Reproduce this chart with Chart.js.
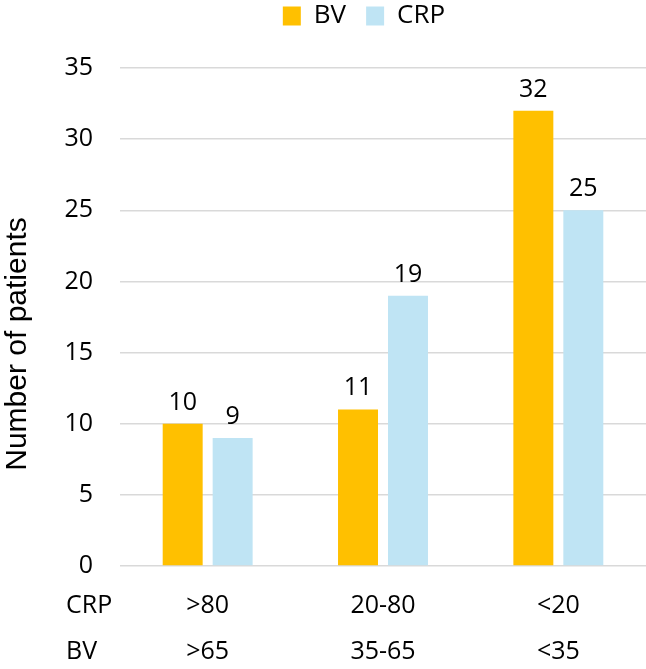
<!DOCTYPE html>
<html>
<head>
<meta charset="utf-8">
<script src="https://cdn.jsdelivr.net/npm/chart.js@4.4.1/dist/chart.umd.min.js"></script>
<style>
  html, body { margin: 0; padding: 0; background: #fff; }
  #wrap { width: 646px; height: 669px; }
</style>
</head>
<body>
<div id="wrap"><canvas id="chart"></canvas></div>
<script>
let crpLabels = [">80", "20-80", "<20"];
let bvLabels = [">65", "35-65", "<35"];
let rowNames = ["CRP", "BV"];
let bvValues = [10, 11, 32];
let crpValues = [9, 19, 25];
let yTicks = [0, 5, 10, 15, 20, 25, 30, 35];

let fontMain = "'Open Sans', sans-serif";

// value above each bar
const barValues = {
  id: "barValues",
  afterDatasetsDraw(chart) {
    const ctx = chart.ctx;
    ctx.save();
    ctx.font = "25px " + fontMain;
    ctx.fillStyle = "#000";
    ctx.textAlign = "center";
    ctx.textBaseline = "alphabetic";
    chart.data.datasets.forEach((ds, i) => {
      chart.getDatasetMeta(i).data.forEach((bar, j) => {
        ctx.fillText(ds.data[j], bar.x, bar.y - 14);
      });
    });
    ctx.restore();
  }
};

// row names under the axis + y title + legend shift
const extras = {
  id: "extras",
  afterLayout(chart) {
    const lg = chart.legend;
    const dx = 364 - (lg.left + lg.right) / 2;
    lg.left += dx; lg.right += dx;
    lg.top -= 29; lg.bottom -= 29;
  },
  afterDraw(chart) {
    const ctx = chart.ctx;
    const x = chart.scales.x;
    ctx.save();
    ctx.font = "25px " + fontMain;
    ctx.fillStyle = "#000";
    ctx.textAlign = "left";
    ctx.textBaseline = "middle";
    rowNames.forEach((name, i) => {
      ctx.fillText(name, 66, x.top + 40 + i * 46);
    });
    ctx.font = "30px 'Liberation Sans', Arial, sans-serif";
    ctx.translate(18, 344);
    ctx.rotate(-Math.PI / 2);
    ctx.textAlign = "center";
    ctx.fillText("Number of patients", 0, 0);
    ctx.restore();
  }
};

new Chart("chart", {
  type: "bar",
  data: {
    labels: crpLabels.map((c, i) => [c, bvLabels[i]]),
    datasets: [
      { label: "BV", data: bvValues, backgroundColor: "#FFC000" },
      { label: "CRP", data: crpValues, backgroundColor: "#BFE4F4" }
    ]
  },
  options: {
    responsive: true,
    maintainAspectRatio: false,
    animation: false,
    categoryPercentage: 0.57,
    barPercentage: 0.8,
    layout: { padding: { top: 12, right: 0, left: 0, bottom: 0 } },
    plugins: {
      tooltip: { enabled: false },
      legend: {
        position: "top",
        labels: {
          boxWidth: 18,
          boxHeight: 19,
          padding: 20,
          color: "#000",
          font: { family: fontMain, size: 26 }
        }
      }
    },
    scales: {
      y: {
        min: 0,
        max: 35,
        afterFit(scale) { scale.width = 120; },
        afterBuildTicks(scale) { scale.ticks = yTicks.map(v => ({ value: v })); },
        border: { display: false },
        grid: { color: "#D9D9D9", lineWidth: 1.5, drawTicks: false },
        ticks: {
          padding: 27,
          color: "#000",
          font: { family: fontMain, size: 25 }
        }
      },
      x: {
        afterFit(scale) { scale.height = 103; },
        border: { display: false },
        grid: { display: false, drawTicks: false },
        ticks: {
          padding: 17,
          color: "#000",
          maxRotation: 0,
          font: { family: fontMain, size: 25, lineHeight: 1.84 }
        }
      }
    }
  },
  plugins: [barValues, extras]
});
</script>
</body>
</html>
